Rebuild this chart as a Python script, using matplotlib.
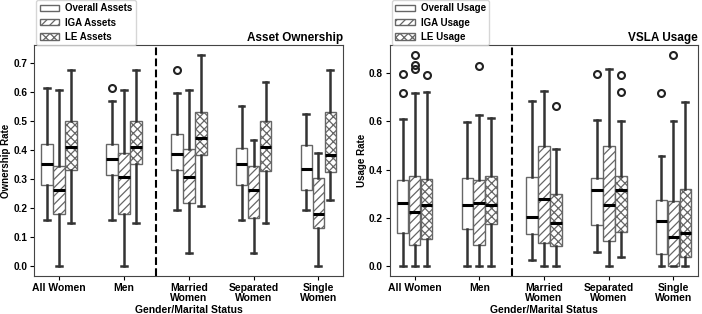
import matplotlib
matplotlib.use("Agg")
import matplotlib.pyplot as plt
from matplotlib.patches import Patch

plt.rcParams['font.family'] = ['Liberation Sans', 'DejaVu Sans']
plt.rcParams['font.weight'] = 'bold'
plt.rcParams['axes.titleweight'] = 'bold'
plt.rcParams['axes.labelweight'] = 'bold'
plt.rcParams['hatch.color'] = '#555555'
plt.rcParams['hatch.linewidth'] = 0.9

groups = ["All Women", "Men", "Married\nWomen", "Separated\nWomen", "Single\nWomen"]

# ---- Asset ownership: [whislo, q1, med, q3, whishi] per group ----
asset_overall = [[0.157, 0.280, 0.351, 0.420, 0.613],
                 [0.157, 0.314, 0.369, 0.420, 0.569],
                 [0.192, 0.332, 0.387, 0.455, 0.598],
                 [0.157, 0.280, 0.350, 0.407, 0.552],
                 [0.191, 0.260, 0.333, 0.416, 0.525]]
asset_overall_fl = [[], [0.613], [0.677], [], []]
asset_iga = [[0.0, 0.177, 0.260, 0.346, 0.607],
             [0.0, 0.177, 0.306, 0.390, 0.607],
             [0.044, 0.216, 0.306, 0.402, 0.607],
             [0.044, 0.164, 0.261, 0.345, 0.435],
             [0.0, 0.131, 0.177, 0.303, 0.389]]
asset_iga_fl = [[], [], [], [], []]
asset_le = [[0.147, 0.332, 0.411, 0.500, 0.676],
            [0.147, 0.352, 0.411, 0.500, 0.676],
            [0.205, 0.381, 0.440, 0.530, 0.727],
            [0.147, 0.326, 0.411, 0.500, 0.634],
            [0.226, 0.323, 0.382, 0.530, 0.676]]
asset_le_fl = [[], [], [], [], []]

# ---- VSLA usage ----
usage_overall = [[0.0, 0.135, 0.261, 0.355, 0.609],
                 [0.0, 0.154, 0.253, 0.364, 0.598],
                 [0.025, 0.130, 0.201, 0.367, 0.686],
                 [0.057, 0.168, 0.314, 0.366, 0.607],
                 [0.0, 0.049, 0.187, 0.275, 0.458]]
usage_overall_fl = [[0.799, 0.718], [], [], [0.799], [0.718]]
usage_iga = [[0.0, 0.084, 0.223, 0.373, 0.718],
             [0.0, 0.084, 0.261, 0.357, 0.626],
             [0.0, 0.095, 0.279, 0.498, 0.729],
             [0.0, 0.101, 0.251, 0.498, 0.818],
             [0.0, 0.0, 0.119, 0.269, 0.603]]
usage_iga_fl = [[0.875, 0.836, 0.817], [0.833], [], [], [0.875]]
usage_le = [[0.0, 0.112, 0.251, 0.362, 0.723],
            [0.0, 0.173, 0.254, 0.373, 0.614],
            [0.0, 0.081, 0.176, 0.300, 0.485],
            [0.035, 0.141, 0.314, 0.373, 0.603],
            [0.0, 0.035, 0.134, 0.317, 0.680]]
usage_le_fl = [[0.794], [], [0.666], [0.794, 0.723], []]


def stats(rows, fliers):
    out = []
    for r, f in zip(rows, fliers):
        out.append(dict(whislo=r[0], q1=r[1], med=r[2], q3=r[3], whishi=r[4], fliers=f))
    return out


W = 0.18
OFF = [-0.185, 0.0, 0.185]
HATCH = [None, '////', 'xxxx']
EDGE = '#666666'
WHISK = '#333333'


def draw(ax, series, fliers, labels, title, ylabel):
    for k, (s, f) in enumerate(zip(series, fliers)):
        pos = [i + OFF[k] for i in range(len(groups))]
        ax.bxp(stats(s, f), positions=pos, widths=W, patch_artist=True,
               manage_ticks=False,
               boxprops=dict(facecolor='white', edgecolor=EDGE, linewidth=1.0,
                             hatch=HATCH[k]),
               whiskerprops=dict(color=WHISK, linewidth=1.8),
               capprops=dict(color=WHISK, linewidth=1.8),
               medianprops=dict(color='black', linewidth=2.2),
               flierprops=dict(marker='o', markerfacecolor='none',
                               markeredgecolor='#222222', markersize=5,
                               markeredgewidth=1.5))
    ax.set_xticks(range(len(groups)))
    ax.set_xticklabels(groups, fontsize=7.5, linespacing=1.05)
    ax.tick_params(axis='x', labelsize=7.5, length=3, pad=2)
    ax.tick_params(axis='y', labelsize=7.2, length=3, pad=2)
    ax.set_xlim(-0.38, 4.38)
    ax.axvline(1.5, color='black', linestyle='--', linewidth=1.5)
    ax.set_title(title, loc='right', fontsize=8.5, pad=3)
    ax.set_xlabel("Gender/Marital Status", fontsize=7.5, labelpad=1)
    ax.set_ylabel(ylabel, fontsize=7, labelpad=1.5)
    for sp in ax.spines.values():
        sp.set_color('#444444')
    handles = [Patch(facecolor='white', edgecolor=EDGE, hatch=HATCH[k], label=labels[k])
               for k in range(3)]
    ax.legend(handles=handles, loc='lower left', bbox_to_anchor=(0.0, 0.99),
              fontsize=7, frameon=True, handlelength=2.0, handleheight=0.6,
              borderaxespad=0.2, labelspacing=0.45, handletextpad=0.6,
              borderpad=0.35)


fig = plt.figure(figsize=(7.02, 3.14), dpi=100)
ax1 = fig.add_axes([0.049, 0.121, 0.4396, 0.7357])
ax2 = fig.add_axes([0.5556, 0.121, 0.4387, 0.7357])

draw(ax1, [asset_overall, asset_iga, asset_le],
     [asset_overall_fl, asset_iga_fl, asset_le_fl],
     ["Overall Assets", "IGA Assets", "LE Assets"], "Asset Ownership", "Ownership Rate")
draw(ax2, [usage_overall, usage_iga, usage_le],
     [usage_overall_fl, usage_iga_fl, usage_le_fl],
     ["Overall Usage", "IGA Usage", "LE Usage"], "VSLA Usage", "Usage Rate")

fig.savefig("out.png", dpi=100)
